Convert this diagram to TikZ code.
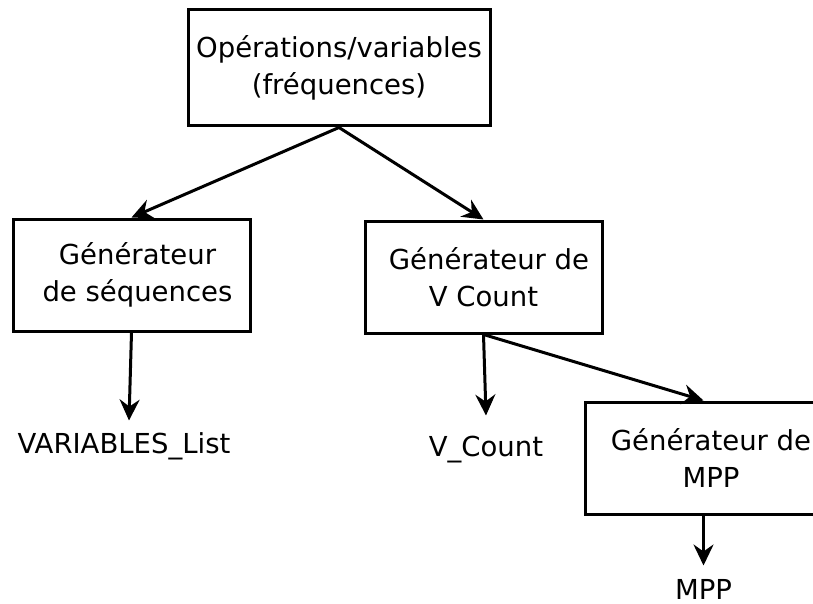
\documentclass[tikz,border=0pt]{standalone}
\usepackage{fontspec}
\setmainfont{DejaVu Sans}
\usetikzlibrary{arrows.meta,positioning}

\tikzset{
  box/.style={draw,line width=3pt,rectangle,minimum width=237pt,minimum height=112pt,align=center,inner sep=0pt},
  bigbox/.style={box,minimum width=302pt,minimum height=116pt},
  lbl/.style={inner sep=0pt,text height=20pt,text depth=0pt}
}

\begin{document}
\begin{tikzpicture}[x=1pt,y=1pt,>={Stealth[length=21pt,width=20pt,inset=7pt]},line width=3pt,on grid,
    font=\fontsize{27.5}{37}\selectfont]

        \useasboundingbox (0,0) rectangle (813,-604);

        \node[bigbox] (ops) at (339,-68) {Opérations/variables\\(fréquences)};
        \node[box] (seq) [below left=207pt and 207.5pt of ops] {\hspace{12pt}Générateur\\\hspace{12pt}de séquences};
        \node[box] (vgen) [below right=209pt and 144.5pt of ops] {\hspace{11pt}Générateur de\\V Count};
        \node[box] (mppgen) [below right=181pt and 220pt of vgen] {\hspace{15pt}Générateur de\\\hspace{15pt}MPP};

        \node[lbl] (varlist) [below left=168pt and 7.5pt of seq] {VARIABLES\_List};
        \node[lbl] (vcount) [below right=169pt and 2.5pt of vgen] {V\_Count};
        \node[lbl] (mpp) [below=131pt of mppgen] {MPP};

        \path[->]
        (ops.south) edge (seq.north)
        (ops.south) edge (vgen.north)
        (seq.south) edge ([xshift=5pt,yshift=11pt]varlist.north)
        (vgen.south) edge ([yshift=19pt]vcount.north)
        (vgen.south) edge (mppgen.north)
        (mppgen.south) edge ([yshift=12pt]mpp.north);

    \end{tikzpicture}
\end{document}
